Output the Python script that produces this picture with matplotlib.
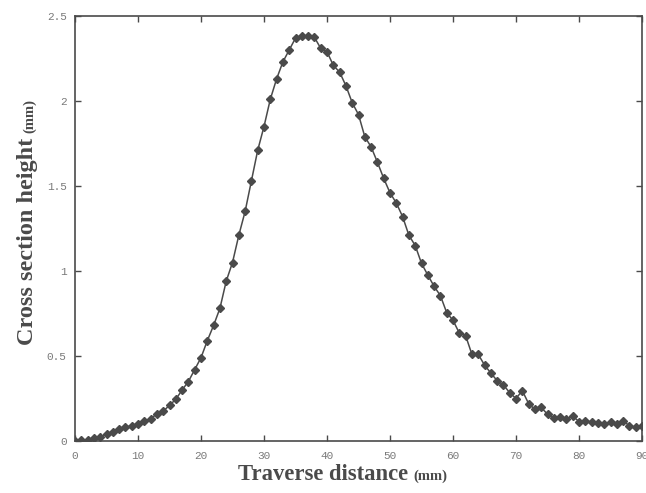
import numpy as np
import matplotlib
matplotlib.use('Agg')
import matplotlib.pyplot as plt

# traverse position (mm) and measured cross-section height (mm)
distance = list(range(0, 91))
height = [0.0, 0.003, 0.008, 0.015, 0.025, 0.04, 0.055, 0.068, 0.08, 0.09,
          0.102, 0.115, 0.13, 0.16, 0.175, 0.21, 0.245, 0.30, 0.35, 0.42,
          0.49, 0.59, 0.68, 0.78, 0.94, 1.05, 1.21, 1.35, 1.53, 1.71,
          1.85, 2.01, 2.13, 2.23, 2.30, 2.37, 2.38, 2.38, 2.375, 2.31,
          2.29, 2.21, 2.17, 2.09, 1.99, 1.92, 1.79, 1.73, 1.64, 1.545,
          1.46, 1.40, 1.32, 1.21, 1.15, 1.045, 0.976, 0.91, 0.855, 0.755,
          0.71, 0.635, 0.62, 0.51, 0.51, 0.447, 0.40, 0.355, 0.33, 0.284,
          0.25, 0.296, 0.22, 0.186, 0.198, 0.157, 0.135, 0.143, 0.127, 0.147,
          0.114, 0.118, 0.11, 0.108, 0.10, 0.11, 0.10, 0.118, 0.09, 0.08,
          0.088]

xticks = [0, 10, 20, 30, 40, 50, 60, 70, 80, 90]
yticks = [0, 0.5, 1, 1.5, 2, 2.5]
ytick_labels = ['0', '0.5', '1', '1.5', '2', '2.5']

ink = '#4a4a4a'
W, H = 646, 493

fig = plt.figure(figsize=(W / 100, H / 100), dpi=100)
ax = fig.add_axes([75 / W, 1 - 441 / H, (642 - 75) / W, (441 - 16) / H])

ax.plot(distance, height, color=ink, lw=1.1, marker='D', ms=3.9,
        mec=ink, mfc=ink)

ax.set_xlim(0, 90)
ax.set_ylim(0, 2.5)
ax.set_xticks(xticks)
ax.set_yticks(yticks)
ax.set_yticklabels(ytick_labels)
ax.tick_params(direction='in', length=4, width=1, color=ink,
               top=True, right=True, labelcolor='#7a7a7a')
ax.tick_params(axis='x', pad=7)
ax.tick_params(axis='y', pad=6)
for lab in ax.get_xticklabels() + ax.get_yticklabels():
    lab.set_family('Liberation Mono')
    lab.set_fontsize(8)
for s in ax.spines.values():
    s.set_color(ink)
    s.set_linewidth(1.2)

serif = 'Liberation Serif'
# x label: big bold words followed by a smaller unit
t1 = fig.text(238 / W, 1 - 480 / H, 'Traverse distance', family=serif,
              weight='bold', fontsize=16.3, color=ink, ha='left', va='baseline')
# y label, rotated
t2 = fig.text(33 / W, 1 - 345 / H, 'Cross section height', family=serif,
              weight='bold', fontsize=17.5, color=ink, rotation=90,
              rotation_mode='anchor', ha='left', va='baseline')

fig.canvas.draw()
r = fig.canvas.get_renderer()
bb1 = t1.get_window_extent(r)
bb2 = t2.get_window_extent(r)
fig.text((bb1.x1 + 5) / W, 1 - 480 / H, '(mm)', family=serif, weight='bold',
         fontsize=10.5, color=ink, ha='left', va='baseline')
fig.text(33 / W, (bb2.y1 + 5) / H, '(mm)', family=serif, weight='bold',
         fontsize=10.5, color=ink, rotation=90, rotation_mode='anchor',
         ha='left', va='baseline')

fig.savefig('out.png', dpi=100)
